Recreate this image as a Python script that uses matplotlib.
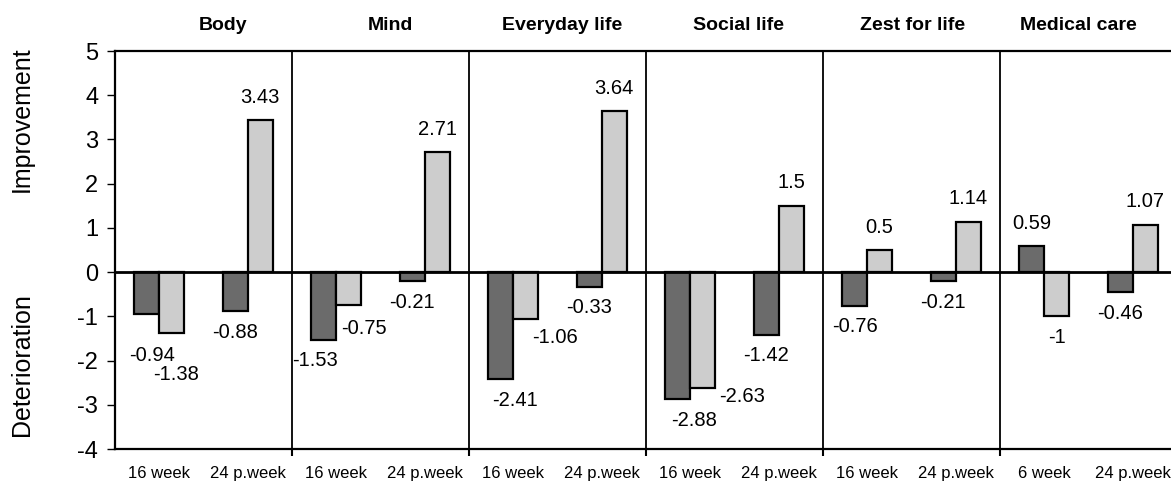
import matplotlib
matplotlib.use('Agg')
import matplotlib.pyplot as plt
import matplotlib.transforms as mtransforms
import numpy as np

plt.rcParams['font.family'] = ['Liberation Sans', 'DejaVu Sans']
plt.rcParams['axes.unicode_minus'] = False

# Domains and time points
domains = ['Body', 'Mind', 'Everyday life', 'Social life', 'Zest for life', 'Medical care']
timepoints = ['16 week', '24 p.week', '16 week', '24 p.week', '16 week', '24 p.week',
              '16 week', '24 p.week', '16 week', '24 p.week', '6 week', '24 p.week']

# Two series per time point (dark and light bars)
dark_values = [-0.94, -0.88, -1.53, -0.21, -2.41, -0.33,
               -2.88, -1.42, -0.76, -0.21, 0.59, -0.46]
light_values = [-1.38, 3.43, -0.75, 2.71, -1.06, 3.64,
                -2.63, 1.5, 0.5, 1.14, -1.0, 1.07]

# Hand placed label shifts in pixels (dx, dy) for labels that were moved in the original
dark_shift = {0: (5, -21), 2: (-9, 0), 4: (14, -1), 6: (16, 0)}
light_shift = {0: (4, -20), 2: (15, -2), 4: (29, 2), 6: (39, 13)}
title_dx = [0.22, 0.11, 0.05, 0.04, 0.01, -0.12]

DARK = '#6b6b6b'
LIGHT = '#cdcdcd'
BAR_W = 0.28

fig = plt.figure(figsize=(11.71, 4.83), dpi=100)
ax = fig.add_axes([115 / 1171, 34 / 483, 1062 / 1171, 398 / 483])

x = np.arange(len(timepoints))
ax.bar(x - BAR_W / 2, dark_values, BAR_W, color=DARK, edgecolor='black', linewidth=1.6, zorder=3)
ax.bar(x + BAR_W / 2, light_values, BAR_W, color=LIGHT, edgecolor='black', linewidth=1.6, zorder=3)

ax.set_xlim(-0.5, len(timepoints) - 0.5)
ax.set_ylim(-4, 5)
ax.set_yticks(range(-4, 6))
ax.tick_params(axis='y', labelsize=17, length=6, width=1, pad=6, direction='out')

ax.set_xticks(x)
ax.set_xticklabels(timepoints, fontsize=12)
ax.tick_params(axis='x', length=0, pad=12)
ax.set_xticks(np.arange(1.5, len(timepoints) - 1, 2), minor=True)
ax.tick_params(axis='x', which='minor', length=5, width=1.5, direction='out')

for spine in ['left', 'top', 'bottom']:
    ax.spines[spine].set_linewidth(1.6)
ax.spines['right'].set_visible(False)

# panel dividers and zero line
for xd in np.arange(1.5, len(timepoints) - 1, 2):
    ax.axvline(xd, color='black', linewidth=1.3, zorder=2)
ax.axhline(0, color='black', linewidth=2, zorder=4)

# value labels
def put_label(xpos, val, shift):
    dx, dy = shift if shift else (0, 0)
    base = 23 if val > 0 else -21
    ax.annotate(f'{val:g}', (xpos, val), xytext=(dx, base + dy),
                textcoords='offset pixels', ha='center', va='center',
                fontsize=14.5, zorder=5)

for i in range(len(timepoints)):
    put_label(x[i] - BAR_W / 2, dark_values[i], dark_shift.get(i))
    put_label(x[i] + BAR_W / 2, light_values[i], light_shift.get(i))

# domain titles above each panel
trans = mtransforms.blended_transform_factory(ax.transData, fig.transFigure)
for k, name in enumerate(domains):
    ax.text(2 * k + 0.5 + title_dx[k], 1 - 25 / 483, name, transform=trans,
            ha='center', va='center', fontsize=14, fontweight='bold')

fig.text(22 / 1171, 1 - 119 / 483, 'Improvement', rotation=90, ha='center', va='center', fontsize=18)
fig.text(22 / 1171, 1 - 365 / 483, 'Deterioration', rotation=90, ha='center', va='center', fontsize=18)

fig.savefig('out.png', dpi=100)
